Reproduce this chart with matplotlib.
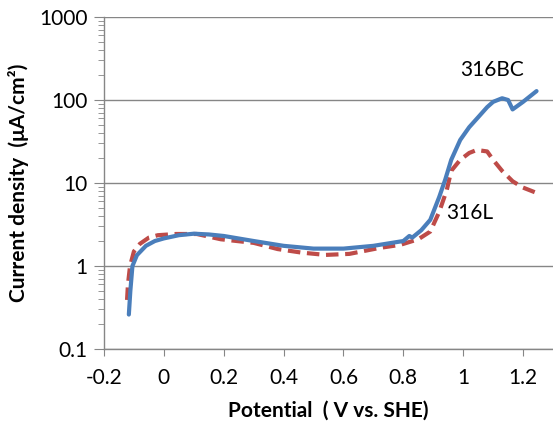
import matplotlib
matplotlib.use('Agg')
import matplotlib.pyplot as plt
from matplotlib.ticker import LogLocator, NullFormatter, FixedLocator

# 316BC (solid blue)
bc_potential = [-0.117, -0.112, -0.105, -0.09, -0.06, -0.03, 0.0, 0.05, 0.1, 0.15, 0.2, 0.3, 0.4,
                0.5, 0.6, 0.7, 0.8, 0.82, 0.83, 0.86, 0.89, 0.92, 0.94, 0.96, 0.99, 1.02, 1.05,
                1.08, 1.1, 1.13, 1.15, 1.165, 1.2, 1.245]
bc_current = [0.26, 0.5, 1.0, 1.35, 1.75, 2.0, 2.15, 2.35, 2.45, 2.4, 2.3, 2.0, 1.75,
              1.62, 1.62, 1.75, 2.0, 2.3, 2.2, 2.7, 3.6, 6.8, 11, 19, 33, 47, 62,
              82, 95, 105, 100, 77, 95, 128]

# 316L (dashed red)
l_potential = [-0.123, -0.12, -0.113, -0.1, -0.08, -0.05, -0.02, 0.04, 0.11, 0.19, 0.3, 0.38,
               0.46, 0.54, 0.62, 0.72, 0.79, 0.85, 0.89, 0.92, 0.945, 0.96, 0.99, 1.02, 1.045,
               1.08, 1.1, 1.13, 1.165, 1.2, 1.245]
l_current = [0.39, 0.6, 1.0, 1.5, 1.85, 2.2, 2.35, 2.43, 2.43, 2.1, 1.9, 1.6,
             1.45, 1.36, 1.4, 1.65, 1.8, 2.1, 2.6, 4.5, 8.2, 14, 19, 23, 25,
             24, 19, 14, 10.5, 8.8, 7.6]

x_ticks = [-0.2, 0, 0.2, 0.4, 0.6, 0.8, 1, 1.2]
x_tick_labels = ['-0.2', '0', '0.2', '0.4', '0.6', '0.8', '1', '1.2']
y_ticks = [0.1, 1, 10, 100, 1000]
y_tick_labels = ['0.1', '1', '10', '100', '1000']

plt.rcParams['font.family'] = ['Lato', 'DejaVu Sans']
grey = '#868686'

fig = plt.figure(figsize=(5.53, 4.25), dpi=100)
ax = fig.add_axes([104 / 553, 1 - 349 / 425, 449 / 553, 332 / 425])

ax.plot(bc_potential, bc_current, color='#4a7ebb', lw=3.0, solid_capstyle='round', zorder=3)
ax.plot(l_potential, l_current, color='#be4b48', lw=3.0, dashes=(3, 1.6), zorder=2)

ax.set_yscale('log')
ax.set_xlim(-0.2, 1.3)
ax.set_ylim(0.1, 1000)

ax.xaxis.set_major_locator(FixedLocator(x_ticks))
ax.set_xticklabels(x_tick_labels)
ax.yaxis.set_major_locator(FixedLocator(y_ticks))
ax.set_yticklabels(y_tick_labels)
ax.yaxis.set_minor_locator(LogLocator(base=10, subs=range(2, 10)))
ax.yaxis.set_minor_formatter(NullFormatter())

ax.grid(axis='y', which='major', color=grey, lw=1.0)
ax.set_axisbelow(True)
for side in ['top', 'right']:
    ax.spines[side].set_visible(False)
for side in ['left', 'bottom']:
    ax.spines[side].set_color(grey)
    ax.spines[side].set_linewidth(1.0)

ax.tick_params(axis='both', which='major', direction='out', color=grey, labelsize=15)
ax.tick_params(axis='y', which='major', length=7, pad=5)
ax.tick_params(axis='y', which='minor', length=4.5, color=grey)
ax.tick_params(axis='x', which='major', length=5, pad=9)

ax.set_xlabel('Potential  ( V vs. SHE)', fontsize=15, fontweight='bold', labelpad=9)
ax.set_ylabel('Current density  (μA/cm²)', fontsize=15, fontweight='bold', labelpad=7)

ax.text(1.097, 229, '316BC', fontsize=15, ha='center', va='center')
ax.text(0.943, 4.4, '316L', fontsize=15, ha='left', va='center')

fig.savefig('out.png', dpi=100)
